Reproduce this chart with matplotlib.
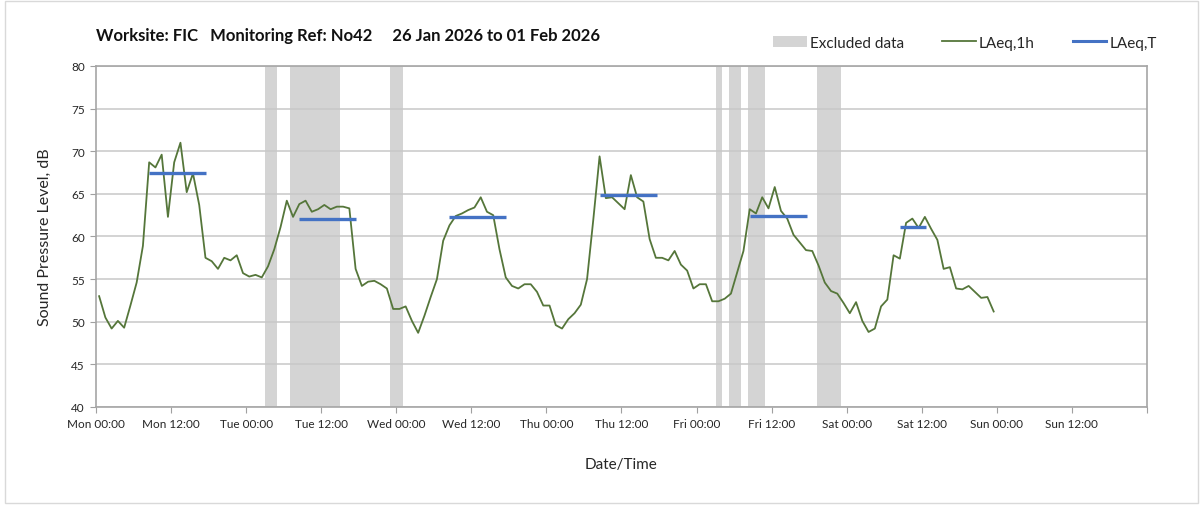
import matplotlib
matplotlib.use('Agg')
import matplotlib.pyplot as plt
from matplotlib.patches import Patch, Rectangle
from matplotlib.lines import Line2D
from matplotlib.ticker import MultipleLocator, FixedLocator

plt.rcParams['font.family'] = ['Lato', 'DejaVu Sans']

# hourly LAeq,1h values, one per hour from Mon 00:00 (plotted mid-hour)
laeq_1h = [
    53.0, 50.5, 49.2, 50.1, 49.3, 51.9, 54.6, 58.9, 68.7, 68.1, 69.6, 62.3,
    68.7, 71.0, 65.2, 67.4, 63.7, 57.5, 57.1, 56.2, 57.5, 57.2, 57.8, 55.7,
    55.3, 55.5, 55.2, 56.5, 58.5, 61.1, 64.2, 62.3, 63.8, 64.2, 62.9, 63.2,
    63.7, 63.2, 63.5, 63.5, 63.3, 56.2, 54.2, 54.7, 54.8, 54.4, 53.9, 51.5,
    51.5, 51.8, 50.1, 48.7, 50.7, 52.9, 55.0, 59.5, 61.3, 62.4, 62.7, 63.1,
    63.4, 64.6, 62.9, 62.5, 58.5, 55.2, 54.2, 53.9, 54.4, 54.4, 53.5, 51.9,
    51.9, 49.6, 49.2, 50.3, 51.0, 52.0, 55.0, 62.0, 69.4, 64.5, 64.6, 63.9,
    63.2, 67.2, 64.6, 64.1, 59.7, 57.5, 57.5, 57.2, 58.3, 56.7, 56.0, 53.9,
    54.4, 54.4, 52.4, 52.4, 52.7, 53.3, 55.8, 58.3, 63.2, 62.7, 64.6, 63.3,
    65.8, 63.0, 62.1, 60.2, 59.3, 58.4, 58.3, 56.6, 54.6, 53.6, 53.3, 52.2,
    51.0, 52.3, 50.1, 48.8, 49.2, 51.8, 52.6, 57.8, 57.4, 61.6, 62.1, 61.0,
    62.3, 60.9, 59.6, 56.2, 56.4, 53.9, 53.8, 54.2, 53.5, 52.8, 52.9, 51.2,
]
hours = [h + 0.5 for h in range(len(laeq_1h))]

# daytime LAeq,T periods (start hour, end hour, level)
period_start = [8.4, 32.4, 56.5, 80.5, 104.6, 128.6]
period_end = [17.6, 41.6, 65.6, 89.7, 113.7, 132.7]
period_level = [67.5, 62.0, 62.3, 64.9, 62.4, 61.1]

# excluded data windows (hours from Mon 00:00)
excl_start = [27.0, 31.0, 47.0, 99.1, 101.2, 104.2, 115.2]
excl_end = [29.0, 39.0, 49.0, 100.1, 103.1, 107.0, 119.1]

tick_hours = list(range(0, 169, 12))
tick_labels = ['Mon 00:00', 'Mon 12:00', 'Tue 00:00', 'Tue 12:00', 'Wed 00:00',
               'Wed 12:00', 'Thu 00:00', 'Thu 12:00', 'Fri 00:00', 'Fri 12:00',
               'Sat 00:00', 'Sat 12:00', 'Sun 00:00', 'Sun 12:00', '']

GREEN = '#55763a'
BLUE = '#4472c4'
GREY = '#d4d4d4'

fig = plt.figure(figsize=(12.03, 5.06), dpi=100)
ax = fig.add_axes([0.0798, 0.1937, 0.8736, 0.6739])

for s, e in zip(excl_start, excl_end):
    ax.axvspan(s, e, color=GREY, lw=0, zorder=0.2)

ax.plot(hours, laeq_1h, color=GREEN, lw=1.3, zorder=3)
ax.hlines(period_level, period_start, period_end, color=BLUE, lw=2.4, zorder=4)

ax.set_xlim(0, 168)
ax.set_ylim(40, 80)
ax.xaxis.set_major_locator(FixedLocator(tick_hours))
ax.set_xticklabels(tick_labels)
ax.xaxis.set_minor_locator(MultipleLocator(24))
ax.yaxis.set_major_locator(MultipleLocator(5))

ax.set_axisbelow(True)
ax.grid(axis='y', which='major', color='#c8c8c8', lw=1.1)
ax.grid(axis='x', which='minor', color='#e2e2e2', lw=1.1)
ax.tick_params(axis='x', which='minor', length=0)
ax.tick_params(axis='both', which='major', direction='out', length=4,
               color='#a0a0a0', labelsize=8.5, labelcolor='#262626', pad=4)

for sp in ax.spines.values():
    sp.set_color('#a6a6a6')
    sp.set_linewidth(1.2)

ax.set_ylabel('Sound Pressure Level, dB', fontsize=11.5, color='#262626', labelpad=14)
ax.set_xlabel('Date/Time', fontsize=11, color='#262626', labelpad=20)

fig.text(0.0798, 0.928, 'Worksite: FIC   Monitoring Ref: No42     26 Jan 2026 to 01 Feb 2026',
         fontsize=12, fontweight='bold', color='#111111', va='center')

handles = [Patch(facecolor=GREY, edgecolor='none'),
           Line2D([], [], color=GREEN, lw=1.3),
           Line2D([], [], color=BLUE, lw=2.2)]
fig.legend(handles, ['Excluded data', 'LAeq,1h', 'LAeq,T'], ncol=3, frameon=False,
           loc='center right', bbox_to_anchor=(0.973, 0.914), fontsize=11,
           handlelength=2.2, handletextpad=0.2, columnspacing=2.5,
           labelcolor='#262626')

fig.add_artist(Rectangle((0.004, 0.003), 0.992, 0.994, transform=fig.transFigure,
                         fill=False, edgecolor='#d9d9d9', lw=1))

fig.savefig('out.png', dpi=100)
